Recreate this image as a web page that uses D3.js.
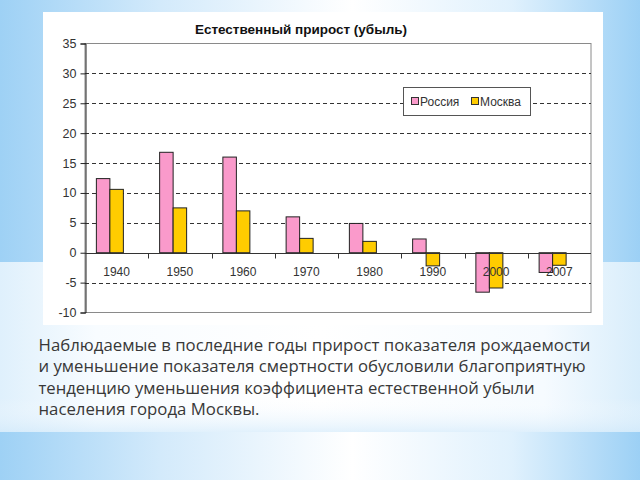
<!DOCTYPE html>
<html><head><meta charset="utf-8">
<script src="https://cdn.jsdelivr.net/npm/d3@7"></script>
<style>html,body{margin:0;padding:0;width:640px;height:480px;overflow:hidden;}</style>
</head><body>
<script>
const categories = ["1940","1950","1960","1970","1980","1990","2000","2007"];
const seriesNames = ["Россия","Москва"];
const russia = [12.4, 16.8, 16.0, 6.0, 4.9, 2.3, -6.6, -3.3];
const moscow = [10.6, 7.5, 7.0, 2.4, 1.9, -2.2, -5.9, -2.1];
const yTicks = [-10,-5,0,5,10,15,20,25,30,35];
const title = "Естественный прирост (убыль)";
const caption = [
  "Наблюдаемые в последние годы прирост показателя рождаемости",
  "и уменьшение показателя смертности обусловили благоприятную",
  "тенденцию уменьшения коэффициента естественной убыли",
  "населения города Москвы."
];
const colors = {"Россия":"#fa9acb","Москва":"#ffcc00"};

const W=640,H=480;
const svg=d3.select("body").append("svg").attr("width",W).attr("height",H);
const defs=svg.append("defs");
const g1=defs.append("linearGradient").attr("id","bg").attr("x1","0").attr("x2","1").attr("y1","0").attr("y2","0");
[[0,"#9ed1f5"],[0.25,"#d3eafb"],[0.55,"#ffffff"],[0.8,"#e0f1fd"],[1,"#9cd0f5"]].forEach(s=>g1.append("stop").attr("offset",s[0]).attr("stop-color",s[1]));
const g2=defs.append("linearGradient").attr("id","band").attr("x1","0").attr("x2","1").attr("y1","0").attr("y2","0");
[[0,"#dff0fc"],[0.15,"#f8fcff"],[0.5,"#ffffff"],[0.85,"#f6fbff"],[1,"#d8edfb"]].forEach(s=>g2.append("stop").attr("offset",s[0]).attr("stop-color",s[1]));
const g3=defs.append("linearGradient").attr("id","bandv").attr("x1","0").attr("x2","0").attr("y1","0").attr("y2","1");
[[0,"#ffffff",0],[0.8,"#ffffff",0],[1,"#cfe8fa",0.6]].forEach(s=>g3.append("stop").attr("offset",s[0]).attr("stop-color",s[1]).attr("stop-opacity",s[2]));

svg.append("rect").attr("width",W).attr("height",H).attr("fill","url(#bg)");
svg.append("rect").attr("x",0).attr("y",262).attr("width",W).attr("height",170).attr("fill","url(#band)");
svg.append("rect").attr("x",0).attr("y",262).attr("width",W).attr("height",170).attr("fill","url(#bandv)");

// chart panel
svg.append("rect").attr("x",43).attr("y",12).attr("width",560).attr("height",313).attr("fill","#ffffff");

const x=d3.scaleBand().domain(categories).range([85,591]).paddingInner(0).paddingOuter(0);
const x1=d3.scaleBand().domain([...seriesNames,"_"]).range([0,x.bandwidth()]).paddingInner(0).paddingOuter(0.843);
const y=d3.scaleLinear().domain([-10,35]).range([312.5,43.5]);

// plot area border
svg.append("rect").attr("x",x.range()[0]).attr("y",y(35)).attr("width",x.range()[1]-x.range()[0]).attr("height",y(-10)-y(35))
  .attr("fill","#fff").attr("stroke","#8a8a8a").attr("stroke-width",1);

// grid
svg.append("g").selectAll("line").data(yTicks.filter(t=>t!==0&&t!==35&&t!==-10)).join("line")
  .attr("x1",x.range()[0]).attr("x2",x.range()[1]).attr("y1",d=>Math.round(y(d))+0.5).attr("y2",d=>Math.round(y(d))+0.5)
  .attr("stroke","#333").attr("stroke-dasharray","4,3").attr("stroke-width",1);

// y axis
const ya=svg.append("g").attr("transform",`translate(${x.range()[0]+0.5},0)`)
  .call(d3.axisLeft(y).tickValues(yTicks).tickSize(5).tickPadding(4).tickFormat(d=>String(d)));
ya.select(".domain").attr("stroke","#222");
ya.selectAll(".tick line").attr("stroke","#222");
ya.selectAll("text").attr("font-family","Liberation Sans, Arial, sans-serif").attr("font-size",12.5).attr("fill","#333");

// bars
const data=categories.map((c,i)=>({c,vals:[{k:"Россия",v:russia[i]},{k:"Москва",v:moscow[i]}]}));
const grp=svg.append("g").selectAll("g").data(data).join("g").attr("transform",d=>`translate(${x(d.c)},0)`);
grp.selectAll("rect").data(d=>d.vals).join("rect")
  .attr("x",d=>x1(d.k)).attr("width",x1.bandwidth())
  .attr("y",d=>y(Math.max(0,d.v))).attr("height",d=>Math.abs(y(d.v)-y(0)))
  .attr("fill",d=>colors[d.k]).attr("stroke","#222").attr("stroke-width",1);

// x axis at 0
const y0=Math.round(y(0))+0.5;
svg.append("line").attr("x1",x.range()[0]).attr("x2",x.range()[1]).attr("y1",y0).attr("y2",y0).attr("stroke","#333");
svg.append("g").selectAll("line").data(categories.slice(1)).join("line")
  .attr("x1",d=>Math.round(x(d))+0.5).attr("x2",d=>Math.round(x(d))+0.5).attr("y1",y0).attr("y2",y0+5).attr("stroke","#333");
svg.append("g").selectAll("text").data(categories).join("text")
  .attr("x",d=>x(d)+x.bandwidth()/2).attr("y",y0+22).attr("text-anchor","middle")
  .attr("font-family","Liberation Sans, Arial, sans-serif").attr("font-size",12).attr("fill","#333").text(d=>d);

// title
svg.append("text").attr("x",301).attr("y",34).attr("text-anchor","middle")
  .attr("font-family","Liberation Sans, Arial, sans-serif").attr("font-weight","bold").attr("font-size",13.5).attr("fill","#111").text(title);

// legend
const lg=svg.append("g");
lg.append("rect").attr("x",403.5).attr("y",87.5).attr("width",127).attr("height",28).attr("fill","#fff").attr("stroke","#555");
const li=lg.selectAll("g").data(seriesNames).join("g").attr("transform",(d,i)=>`translate(${i?471:411},0)`);
li.append("rect").attr("x",0.5).attr("y",97.5).attr("width",7).attr("height",7).attr("fill",d=>colors[d]).attr("stroke","#333");
li.append("text").attr("x",9).attr("y",105.5).attr("font-family","Liberation Sans, Arial, sans-serif").attr("font-size",12).attr("fill","#333").text(d=>d);

// caption
const widths=[552,547,496,221];
svg.append("g").selectAll("text").data(caption).join("text")
  .attr("x",38.5).attr("y",(d,i)=>351+i*21.3)
  .attr("font-family","Open Sans, sans-serif").attr("font-size",17).attr("fill","#383838")
  .attr("textLength",(d,i)=>widths[i]).attr("lengthAdjust","spacingAndGlyphs").text(d=>d);
</script>
</body></html>
